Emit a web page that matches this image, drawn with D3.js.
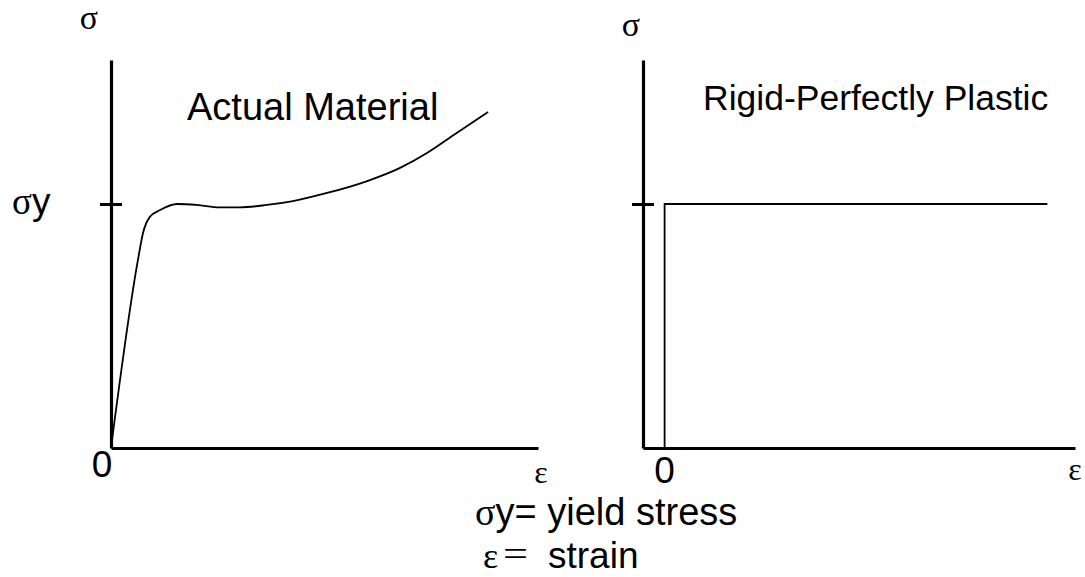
<!DOCTYPE html>
<html>
<head>
<meta charset="utf-8">
<script src="https://cdn.jsdelivr.net/npm/d3@7"></script>
<style>
  body { margin: 0; background: #fff; }
  .sans { font-family: "Liberation Sans", Arial, sans-serif; }
  .serif { font-family: "Liberation Serif", "Times New Roman", serif; }
</style>
</head>
<body>
<svg id="chart" width="1085" height="577"></svg>
<script>
// stress / strain in normalised units (yield stress = 1, axis length = 1)
const actualStrain = [0, 0.063, 0.075, 0.091, 0.115, 0.155, 0.201, 0.255, 0.302, 0.365, 0.426, 0.506, 0.6, 0.677, 0.74, 0.806, 0.883];
const actualStress = [0, 0.77, 0.881, 0.947, 0.975, 1.0, 0.996, 0.986, 0.986, 0.996, 1.012, 1.045, 1.094, 1.148, 1.209, 1.287, 1.377];
const plasticStrain = [0, 0, 0.886];
const plasticStress = [0, 1, 1];
const yieldStress = 1;
const stressMax = 1.59;

const svg = d3.select("svg#chart");

const panels = [
  { left: 111, right: 538, domain: [0, 1] },
  { left: 643, right: 1075, domain: [-0.05, 0.95] },
];
const axisBottomY = 448;
const axisTopY = 60;

const yScale = d3.scaleLinear().domain([0, stressMax]).range([axisBottomY, axisTopY]);

const scales = panels.map((p) =>
  d3.scaleLinear().domain(p.domain).range([p.left, p.right])
);

// axes
scales.forEach((x, i) => {
  const p = panels[i];
  const yAxis = d3.axisLeft(yScale).tickValues([yieldStress]).tickFormat("").tickSizeOuter(0);
  const ga = svg.append("g")
    .attr("transform", `translate(${p.left},0)`)
    .call(yAxis);
  ga.select(".domain").attr("stroke-width", 3.2);
  ga.selectAll(".tick line").attr("x1", -11).attr("x2", 11).attr("stroke-width", 3);

  const xAxis = d3.axisBottom(x).tickValues([]).tickSizeOuter(0);
  svg.append("g")
    .attr("transform", `translate(0,${axisBottomY})`)
    .call(xAxis)
    .select(".domain").attr("stroke-width", 3.2);
});

// actual material curve
const xL = scales[0];
const xR = scales[1];
const actualLine = d3.line()
  .x((d, i) => xL(actualStrain[i]))
  .y((d, i) => yScale(actualStress[i]))
  .curve(d3.curveMonotoneX);
svg.append("path")
  .datum(actualStrain)
  .attr("d", actualLine)
  .attr("fill", "none")
  .attr("stroke", "#000")
  .attr("stroke-width", 1.8);

// rigid-perfectly plastic
const plasticLine = d3.line()
  .x((d, i) => xR(plasticStrain[i]))
  .y((d, i) => yScale(plasticStress[i]));
svg.append("path")
  .datum(plasticStrain)
  .attr("d", plasticLine)
  .attr("fill", "none")
  .attr("stroke", "#000")
  .attr("stroke-width", 1.8);

// labels
const addText = (x, y, cls, size, txt, anchor = "start") =>
  svg.append("text")
    .attr("class", cls)
    .attr("x", x)
    .attr("y", y)
    .attr("font-size", size)
    .attr("text-anchor", anchor)
    .text(txt);

addText(187, 120, "sans", 38, "Actual Material");
addText(703, 110, "sans", 35.5, "Rigid-Perfectly Plastic");

addText(89, 29, "serif", 34, "σ", "middle");
addText(631, 36, "serif", 34, "σ", "middle");

addText(xL(0) - 9, 477, "sans", 37, "0", "middle");
addText(xR(0), 483, "sans", 37, "0", "middle");

addText(541, 483, "serif", 32, "ε", "middle");
addText(1075, 480, "serif", 32, "ε", "middle");

// σy label on left axis
const sy = svg.append("text").attr("x", 12).attr("y", yScale(yieldStress) + 10).attr("font-size", 37);
sy.append("tspan").attr("class", "serif").text("σ");
sy.append("tspan").attr("class", "sans").text("y");

// legend lines
const l1 = svg.append("text").attr("x", 475).attr("y", 525).attr("font-size", 38);
l1.append("tspan").attr("class", "serif").text("σ");
l1.append("tspan").attr("class", "sans").text("y= yield stress");

addText(483, 568, "serif", 36, "ε");
addText(503, 566, "serif", 36, "=")
  .attr("textLength", 25)
  .attr("lengthAdjust", "spacingAndGlyphs");
addText(548, 568, "sans", 37, "strain");
</script>
</body>
</html>
